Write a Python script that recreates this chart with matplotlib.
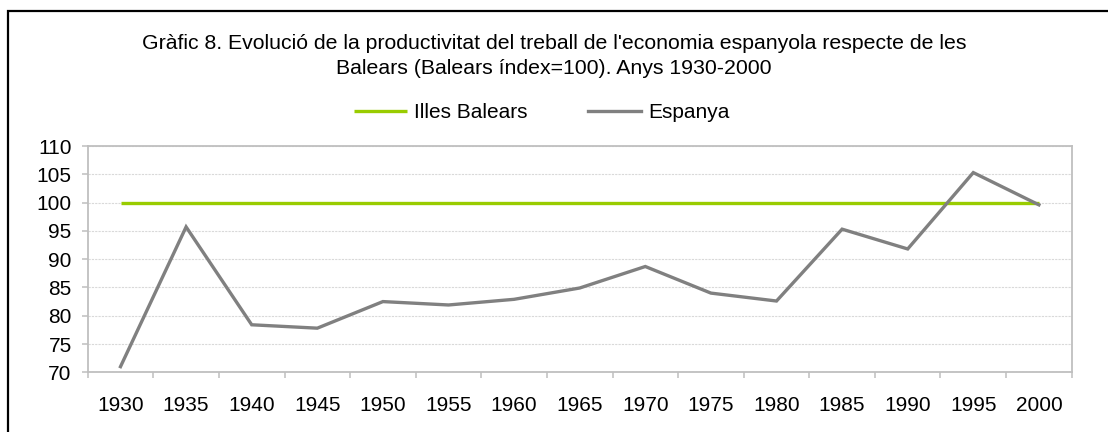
import matplotlib.pyplot as plt
from matplotlib.patches import Rectangle
from matplotlib.ticker import FixedLocator

plt.rcParams['font.family'] = ['Liberation Sans', 'DejaVu Sans']

# Dades
anys = ["1930", "1935", "1940", "1945", "1950", "1955", "1960", "1965",
        "1970", "1975", "1980", "1985", "1990", "1995", "2000"]
balears = [100, 100, 100, 100, 100, 100, 100, 100, 100, 100, 100, 100, 100, 100, 100]
espanya = [71.0, 95.7, 78.4, 77.8, 82.5, 81.9, 82.9, 84.9, 88.7, 84.0, 82.6, 95.3, 91.8, 105.3, 99.6]
yticks = [70, 75, 80, 85, 90, 95, 100, 105, 110]

fs = 15

fig = plt.figure(figsize=(11.08, 4.32), dpi=100)
ax = fig.add_axes([87.7 / 1108, 59.7 / 432, 984 / 1108, 226.3 / 432])

x = list(range(len(anys)))
ax.plot(x, balears, color='#99cc00', lw=2.4, label='Illes Balears', solid_capstyle='butt')
ax.plot(x, espanya, color='#808080', lw=2.4, label='Espanya', solid_joinstyle='miter')

ax.set_xlim(-0.5, len(anys) - 0.5)
ax.set_ylim(70, 110)
ax.set_yticks(yticks)
ax.yaxis.grid(True, color='#d9d9d9', lw=0.8, linestyle=(0, (2, 1)))
ax.set_axisbelow(True)

# ticks entre categories, etiquetes al centre
ax.xaxis.set_major_locator(FixedLocator([i - 0.5 for i in range(len(anys) + 1)]))
ax.xaxis.set_minor_locator(FixedLocator(x))
ax.set_xticklabels([])
ax.set_xticklabels(anys, minor=True)
ax.tick_params(axis='x', which='major', length=4.5, color='#bfbfbf', width=1.1)
ax.tick_params(axis='x', which='minor', length=0, pad=17, labelsize=fs)
ax.tick_params(axis='y', length=4.5, color='#bfbfbf', width=1.1, pad=7, labelsize=fs)

for s in ax.spines.values():
    s.set_color('#bfbfbf')
    s.set_linewidth(1.3)

fig.text(0.5, 1 - 56 / 432, "Gràfic 8. Evolució de la productivitat del treball de l'economia espanyola respecte de les\n"
         "Balears (Balears índex=100). Anys 1930-2000", ha='center', va='center', fontsize=15.3,
         linespacing=1.45)

fig.legend(loc='center', bbox_to_anchor=(542 / 1108, 1 - 113 / 432), ncol=2, frameon=False,
           fontsize=fs, handlelength=2.55, columnspacing=2.9, handletextpad=0.35)

# marc del gràfic
fig.patches.append(Rectangle((8 / 1108, -0.1), 1.2, 0.1 + 1 - 11 / 432, transform=fig.transFigure,
                             fill=False, edgecolor='black', lw=1.6))

plt.savefig('out.png', dpi=100)
